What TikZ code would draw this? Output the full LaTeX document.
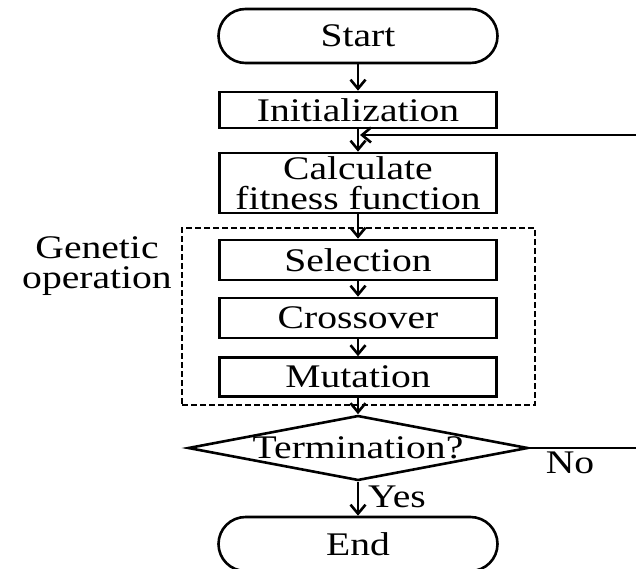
\documentclass[tikz,border=0pt]{standalone}
\usepackage{fontspec}
\setmainfont{Liberation Serif}[FakeStretch=1.2]
\usetikzlibrary{shapes.geometric,arrows.meta}
\begin{document}
\begin{tikzpicture}[x=1pt,y=-1pt,
  font=\fontsize{33}{30}\selectfont,
  line width=2.6pt,
  arr/.style={-{Straight Barb[length=9pt,width=15pt,line width=2.6pt]}, line width=2.6pt},
  box/.style={draw, rectangle, line width=2.6pt, minimum width=277pt, inner sep=0pt, align=center},
  term/.style={draw, rectangle, rounded corners=27pt, line width=2.6pt, minimum width=279pt, minimum height=54pt, inner sep=0pt},
  dia/.style={draw, diamond, line width=2.6pt, minimum width=340pt, minimum height=65pt, inner sep=0pt},
  grp/.style={draw, line width=1.8pt, dash pattern=on 6pt off 3pt},
  lbl/.style={inner sep=0pt}
]
\useasboundingbox (0,0) rectangle (636,569);

\node[term] (start) at (358,36) {Start};
\node[box, minimum height=36pt] (init) at (358,110) {Initialization};
\node[box, minimum height=60pt] (calc) at (358,183) {Calculate\\fitness function};
\node[box, minimum height=40pt] (sel) at (358,260) {Selection};
\node[box, minimum height=40pt] (cross) at (358,318) {Crossover};
\node[box, minimum height=39pt] (mut) at (358,377) {Mutation};
\node[dia, label={center:Termination?}] (decide) at (358,448) {};
\node[term] (end) at (358,544) {End};

\node[grp, minimum width=353pt, minimum height=177pt, inner sep=0pt] (group) at (358.5,316.5) {};
\node[lbl, align=center, font=\fontsize{33}{30}\selectfont] (glabel) at (97,266) {Genetic\\operation};

\coordinate (merge) at (360,135);
\coordinate (c1) at (642,448);
\coordinate (c2) at (642,135);

\draw[arr] (start.south) -- (init.north);
\draw[arr] (init.south) -- (calc.north);
\draw[arr] (calc.south) -- (sel.north);
\draw[arr] (sel.south) -- (cross.north);
\draw[arr] (cross.south) -- (mut.north);
\draw[arr] (mut.south) -- (decide.north);
\draw[arr] (decide.south) -- (end.north);
\draw[arr] (decide.east) -- (c1) -- (c2) -- (merge);

\node[lbl] (yes) at (397,497) {Yes};
\node[lbl] (no) at (570,463) {No};
\end{tikzpicture}
\end{document}
